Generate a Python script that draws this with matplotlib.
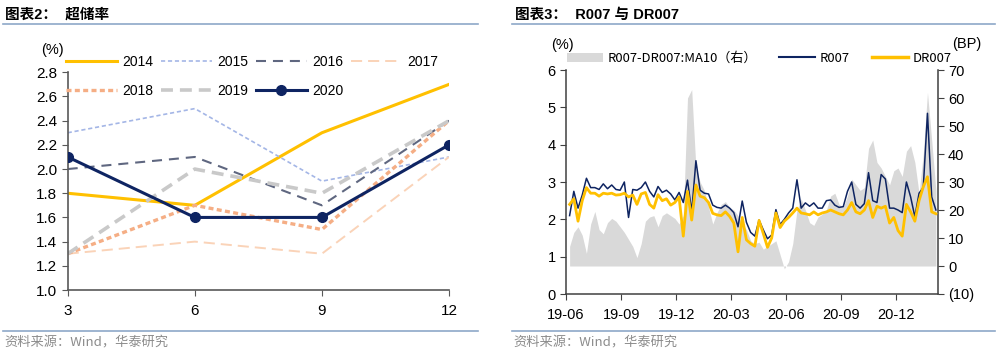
import numpy as np
import pandas as pd
import matplotlib
matplotlib.use("Agg")
import matplotlib.pyplot as plt
import matplotlib.dates as mdates
from matplotlib.lines import Line2D
from matplotlib.patches import Patch
from matplotlib.ticker import FuncFormatter

plt.rcParams['font.family'] = ['Liberation Sans', 'Noto Sans CJK SC', 'DejaVu Sans']
plt.rcParams['lines.scale_dashes'] = False

# ---- 图表2 data: excess reserve ratio by quarter-end month ----
months = [3, 6, 9, 12]
ratio_2014 = [1.8, 1.7, 2.3, 2.7]
ratio_2015 = [2.3, 2.5, 1.9, 2.1]
ratio_2016 = [2.0, 2.1, 1.7, 2.4]
ratio_2017 = [1.3, 1.4, 1.3, 2.1]
ratio_2018 = [1.3, 1.7, 1.5, 2.4]
ratio_2019 = [1.3, 2.0, 1.8, 2.4]
ratio_2020 = [2.1, 1.6, 1.6, 2.2]

# ---- 图表3 data: weekly readings (Fridays) ----
week_dates = pd.date_range('2019-06-07', periods=88, freq='7D')
r007 = [2.1, 2.75, 2.3, 2.65, 3.1, 2.85, 2.85, 2.8, 2.95, 2.82,
        2.92, 2.8, 2.78, 3.0, 2.05, 2.8, 2.78, 2.85, 3.0, 2.75,
        2.6, 2.88, 2.72, 2.78, 2.68, 2.52, 2.72, 2.45, 3.05, 2.2,
        3.57, 2.78, 2.7, 2.68, 2.38, 2.32, 2.3, 2.38, 2.3, 2.18,
        1.8, 2.49, 1.92, 1.65, 1.55, 1.98, 1.72, 1.48, 1.58, 2.26,
        1.86, 2.0, 2.17, 2.3, 3.06, 2.3, 2.44, 2.35, 2.44, 2.3,
        2.3, 2.5, 2.52, 2.38, 2.32, 2.34, 2.75, 3.0, 2.4, 2.3,
        2.42, 3.25, 2.5, 2.45, 3.2, 3.08, 2.3, 2.3, 2.25, 2.18,
        3.0, 2.6, 2.07, 2.7, 2.85, 4.84, 2.6, 2.25]
dr007 = [2.4, 2.55, 1.95, 2.5, 2.85, 2.7, 2.7, 2.62, 2.7, 2.68,
         2.7, 2.65, 2.66, 2.7, 2.6, 2.65, 2.4, 2.68, 2.72, 2.4,
         2.3, 2.66, 2.5, 2.55, 2.38, 2.45, 2.6, 1.55, 2.75, 1.98,
         2.92, 2.62, 2.58, 2.45, 2.16, 2.12, 2.1, 2.2, 2.08, 1.9,
         1.13, 2.05, 1.45, 1.35, 1.28, 1.97, 1.62, 1.25, 1.5, 2.17,
         1.78, 1.95, 2.05, 2.17, 2.3, 2.17, 2.15, 2.12, 2.2, 2.12,
         2.17, 2.2, 2.25, 2.2, 2.15, 2.12, 2.25, 2.45, 2.2, 2.15,
         2.25, 2.5, 2.05, 2.35, 2.3, 2.35, 1.9, 2.05, 1.7, 1.55,
         2.4, 2.2, 1.95, 2.5, 2.87, 3.14, 2.2, 2.15]
spread_ma10 = [7, 12, 14, 11, 4.5, 15, 19.5, 13, 11.5, 15.5,
               17, 16, 14, 12, 9.5, 7, 3, 8, 16, 17.5,
               18, 14, 18, 19, 18, 17, 15, 18, 60, 63,
               35, 30, 27, 21, 15, 19, 22, 23, 21, 20,
               18, 15, 13, 9, 8, 8.5, 6, 7, 8, 9,
               4, -1, 1.5, 8, 20, 24, 20, 15.5, 14.5, 17.5,
               18.5, 20, 25, 26, 22, 21, 25, 31, 29, 27,
               28, 42, 45, 37, 35, 32, 29, 34, 35, 32,
               41, 43, 37, 26, 40, 62, 45, 27]

fig = plt.figure(figsize=(10, 3.55), dpi=100)
H = 355.0

def fy(px):
    return 1 - px / H

rule_color = '#8EA8C8'
for x0, x1 in [(0.003, 0.478), (0.512, 0.995)]:
    fig.add_artist(Line2D([x0, x1], [fy(24), fy(24)], color=rule_color, lw=1.2))
    fig.add_artist(Line2D([x0, x1], [fy(331), fy(331)], color=rule_color, lw=1.2))

fig.text(0.005, fy(15), '图表2：  超储率', fontsize=10.5, fontweight='bold', va='center')
fig.text(0.515, fy(15), '图表3：  R007 与 DR007', fontsize=10.5, fontweight='bold', va='center')
src_font = ['Noto Sans CJK SC', 'DejaVu Sans']
fig.text(0.004, fy(343), '资料来源：Wind，华泰研究', fontsize=9.5, color='#8C8C8C',
         va='center', family=src_font)
fig.text(0.513, fy(343), '资料来源：Wind，华泰研究', fontsize=9.5, color='#8C8C8C',
         va='center', family=src_font)

# ---------------- left chart ----------------
ax1 = fig.add_axes([0.0677, 1 - 290 / H, 0.3813, (290 - 72.3) / H])
styles = [
    ('2014', ratio_2014, '#FFC000', 2.2, None),
    ('2015', ratio_2015, '#A4B6E6', 1.2, (3.0, 2.0)),
    ('2016', ratio_2016, '#5F6780', 1.5, (7.2, 5.0)),
    ('2017', ratio_2017, '#FAD3B8', 1.4, (8.0, 4.3)),
    ('2018', ratio_2018, '#F5AE85', 2.4, (3.6, 2.4)),
    ('2019', ratio_2019, '#C9C9C9', 2.6, (8.6, 5.0)),
]
handles = {}
for label, vals, color, lw, dash in styles:
    ln, = ax1.plot(months, vals, color=color, lw=lw, label=label, zorder=2)
    if dash:
        ln.set_dashes(dash)
    handles[label] = ln
ln, = ax1.plot(months, ratio_2020, color='#0E2462', lw=2.2, marker='o', ms=7,
               label='2020', zorder=3)
handles['2020'] = ln

ax1.set_xlim(3, 12)
ax1.set_ylim(1.0, 2.8)
ax1.set_xticks(months)
ax1.set_yticks(np.arange(1.0, 2.81, 0.2))
ax1.yaxis.set_major_formatter(FuncFormatter(lambda v, p: f'{v:.1f}'))
ax1.tick_params(labelsize=11, length=4, color='#595959')
ax1.tick_params(axis='x', pad=6)
for s in ['top', 'right']:
    ax1.spines[s].set_visible(False)
for s in ['left', 'bottom']:
    ax1.spines[s].set_color('#595959')
    ax1.spines[s].set_linewidth(1.2)

order = ['2014', '2018', '2015', '2019', '2016', '2020', '2017']
fig.legend([handles[k] for k in order], order, loc='upper left', ncol=4,
           bbox_to_anchor=(0.066, fy(55)), frameon=False, fontsize=10,
           borderpad=0, borderaxespad=0, handlelength=3.7, handletextpad=0.35,
           columnspacing=0.55, labelspacing=1.05)
fig.text(0.052, fy(50), '(%)', fontsize=10.5, ha='center', va='center')

# ---------------- right chart ----------------
ax3 = fig.add_axes([0.566, 1 - 294 / H, 0.3717, (294 - 70) / H])
ax4 = ax3.twinx()
ax4.fill_between(week_dates, 0, spread_ma10, color='#D9D9D9', lw=0)
ax3.plot(week_dates, r007, color='#0E2461', lw=1.1)
ax3.plot(week_dates, dr007, color='#FFC000', lw=2.0)
ax3.set_zorder(ax4.get_zorder() + 1)
ax3.patch.set_visible(False)

ax3.set_xlim(pd.Timestamp('2019-06-01'), pd.Timestamp('2021-02-08'))
ax3.set_ylim(0, 6)
ax3.set_yticks(range(0, 7))
ax4.set_ylim(-10, 70)
ax4.set_yticks(range(-10, 71, 10))
ax4.yaxis.set_major_formatter(FuncFormatter(lambda v, p: f'({abs(v):.0f})' if v < 0 else f'{v:.0f}'))
ax3.xaxis.set_major_locator(mdates.MonthLocator(bymonth=[3, 6, 9, 12]))
ax3.xaxis.set_major_formatter(mdates.DateFormatter('%y-%m'))

for a in (ax3, ax4):
    a.tick_params(labelsize=10.5, length=4, color='#404040')
    a.spines['top'].set_visible(False)
ax3.tick_params(axis='x', pad=6)
ax3.spines['right'].set_visible(False)
ax4.spines['left'].set_visible(False)
ax4.spines['bottom'].set_visible(False)
for a, s in [(ax3, 'left'), (ax3, 'bottom'), (ax4, 'right')]:
    a.spines[s].set_color('#404040')
    a.spines[s].set_linewidth(1.1)

leg_handles = [Patch(color='#D9D9D9', lw=0),
               Line2D([], [], color='#0E2461', lw=1.5),
               Line2D([], [], color='#FFC000', lw=2.5)]
fig.legend(leg_handles, ['R007-DR007:MA10（右）', 'R007', 'DR007'], loc='upper left',
           ncol=3, bbox_to_anchor=(0.567, fy(52)), frameon=False,
           prop={'family': ['Noto Sans CJK SC', 'DejaVu Sans'], 'size': 9.4},
           borderpad=0, borderaxespad=0, handlelength=2.75, handletextpad=0.35,
           columnspacing=1.7)
fig.text(0.562, fy(45), '(%)', fontsize=10.5, ha='center', va='center')
fig.text(0.967, fy(44), '(BP)', fontsize=10.5, ha='center', va='center')

fig.savefig('out.png', dpi=100)
